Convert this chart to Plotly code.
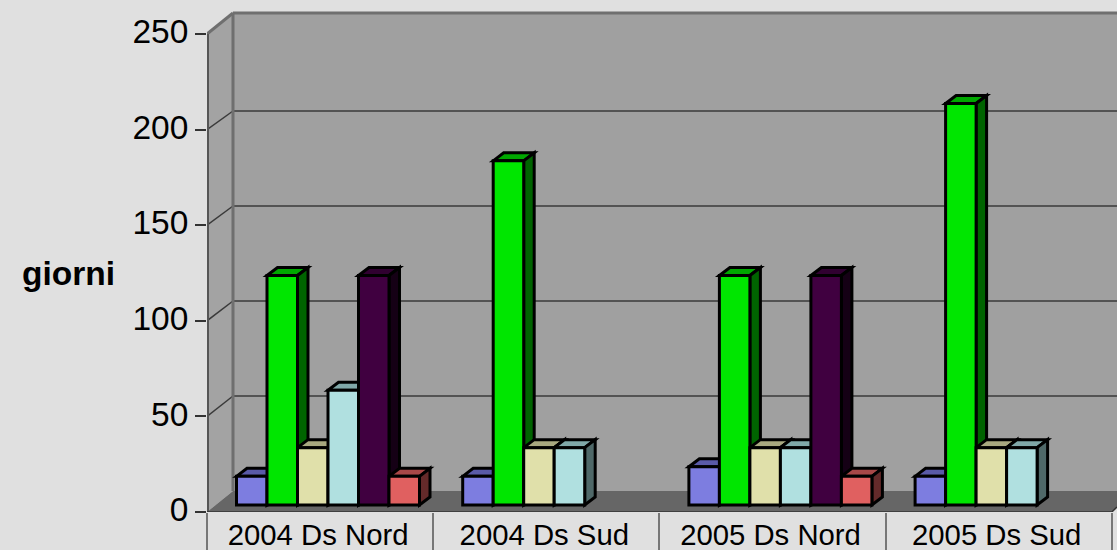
import plotly.graph_objects as go

categories = ["2004 Ds Nord", "2004 Ds Sud", "2005 Ds Nord", "2005 Ds Sud"]
tick_values = [0, 50, 100, 150, 200, 250]
serie_1 = [15, 15, 20, 15]
serie_2 = [120, 180, 120, 210]
serie_3 = [30, 30, 30, 30]
serie_4 = [60, 30, 30, 30]
serie_5 = [120, None, 120, None]
serie_6 = [15, None, 15, None]

front_colors = ["#7d7de0", "#00e600", "#e0e0aa", "#b0e0e0", "#400040", "#e06060"]
top_colors = ["#5a5aa8", "#00a800", "#a8a880", "#80a8a8", "#300030", "#a84848"]
side_colors = ["#38386a", "#006400", "#64644c", "#4f6868", "#150015", "#642a2a"]
series = [serie_1, serie_2, serie_3, serie_4, serie_5, serie_6]

CAT_PX = 226.2
UNIT_PX = 1.912
W, H = 1117, 550
L, T, B = 207, 8, 38


def px_x(p):
    return p / CAT_PX


def px_y(p):
    return p / UNIT_PX


BAR_W = px_x(30.5)
GROUP_PAD = px_x(29.5)
BASE = px_y(7)
DX, DY = px_x(10.5), px_y(8)
WALL_X, WALL_Y = px_x(26), px_y(21)
X_MAX = (W - L) / CAT_PX
Y_MAX = (H - B - T) / UNIT_PX
X_END = len(categories)
LABEL_LIFT = px_y(2.5)

fig = go.Figure()
shapes = []


def poly(points, fill, line_color=None, width=0, layer="below"):
    path = "M " + " L ".join(f"{x:.5f},{y:.5f}" for x, y in points) + " Z"
    shapes.append(dict(type="path", path=path, xref="x", yref="y", fillcolor=fill,
                       line=dict(color=line_color or fill, width=width), layer=layer))


def seg(x0, y0, x1, y1, color, width, layer="below"):
    shapes.append(dict(type="line", x0=x0, y0=y0, x1=x1, y1=y1, xref="x", yref="y",
                       line=dict(color=color, width=width), layer=layer))


WALL = "#a0a0a0"
poly([(0, 0), (WALL_X, WALL_Y), (WALL_X, 250 + WALL_Y), (0, 250)], "#a3a3a3")
poly([(WALL_X, WALL_Y), (X_MAX, WALL_Y), (X_MAX, 250 + WALL_Y), (WALL_X, 250 + WALL_Y)], WALL)
poly([(0, 0), (WALL_X, WALL_Y), (X_MAX, WALL_Y), (X_MAX, px_y(5)), (X_END, 0)], "#666666")

for v in tick_values[1:-1]:
    back = v + px_y(21 - v * 0.012)
    seg(WALL_X, back, X_MAX, back, "#3a3a3a", 1.5)
    seg(0, v, WALL_X, back, "#3a3a3a", 1.5)
seg(WALL_X, WALL_Y, WALL_X, 250 + WALL_Y, "#6f6f6f", 3)
seg(WALL_X, 250 + WALL_Y, X_MAX, 250 + WALL_Y, "#6f6f6f", 3)
seg(0, 250, WALL_X, 250 + WALL_Y, "#6f6f6f", 3)
seg(0, 0, 0, 250, "#555555", 4)
seg(0, 0, X_END, 0, "#333333", 1.5, "above")
seg(X_END, 0, X_MAX, px_y(5), "#333333", 1.5, "above")

positions = [i + 0.5 for i in range(len(categories))]
label_positions = [p - px_x(2) for p in positions]

for c in range(len(categories)):
    for s, values in enumerate(series):
        v = values[c]
        if v is None:
            continue
        left = c + GROUP_PAD + s * BAR_W
        right = left + BAR_W
        top = BASE + v
        poly([(left, top), (left + DX, top + DY), (right + DX, top + DY), (right, top)],
             top_colors[s], "#000000", 3, "between")
        poly([(right, top), (right + DX, top + DY), (right + DX, BASE + DY), (right, BASE)],
             side_colors[s], "#000000", 3, "between")

for s, values in enumerate(series):
    fig.add_trace(go.Bar(
        x=positions, y=values, base=BASE, width=BAR_W,
        offset=-0.5 + GROUP_PAD + s * BAR_W,
        marker=dict(color=front_colors[s], line=dict(color="#000000", width=3)),
        showlegend=False, cliponaxis=False,
    ))

# carries the value labels of the y axis, drawn a little above their tick marks
fig.add_trace(go.Scatter(x=[None], y=[None], yaxis="y2", showlegend=False, hoverinfo="skip"))

FONT = "Liberation Sans, Arial, sans-serif"
fig.update_layout(
    width=W, height=H, barmode="overlay",
    margin=dict(l=L, r=0, t=T, b=B, pad=0),
    paper_bgcolor="#e0e0e0", plot_bgcolor="#e0e0e0",
    shapes=shapes, showlegend=False,
    font=dict(family=FONT, color="#000000"),
    annotations=[dict(text="<b>giorni</b>", xref="paper", yref="y", x=-0.1, y=125,
                      xanchor="right", yanchor="middle", showarrow=False, borderpad=0,
                      font=dict(size=33.5, family=FONT, color="#000000"))],
    xaxis=dict(range=[0, X_MAX], tickvals=label_positions, ticktext=categories, ticks="",
               showgrid=False, zeroline=False, showline=False, ticklabelstandoff=3,
               tickfont=dict(size=29.3, family=FONT, color="#000000"),
               minor=dict(tickvals=list(range(len(categories) + 1)), ticks="outside",
                          ticklen=38, tickwidth=2, tickcolor="#777777", showgrid=False)),
    yaxis=dict(range=[0, Y_MAX], tickvals=tick_values, ticks="outside", ticklen=11,
               tickwidth=1.5, tickcolor="#333333", showgrid=False, zeroline=False,
               showline=False, showticklabels=False),
    yaxis2=dict(range=[-LABEL_LIFT, Y_MAX - LABEL_LIFT], overlaying="y", side="left",
                tickvals=tick_values, ticks="outside", ticklen=11, tickcolor="rgba(0,0,0,0)",
                showgrid=False, zeroline=False, showline=False,
                tickfont=dict(size=33.5, family=FONT, color="#000000")),
)

fig.write_html("out.html", config=dict(displayModeBar=False),
               post_script="document.body.style.margin='0';document.body.style.overflow='hidden';")
